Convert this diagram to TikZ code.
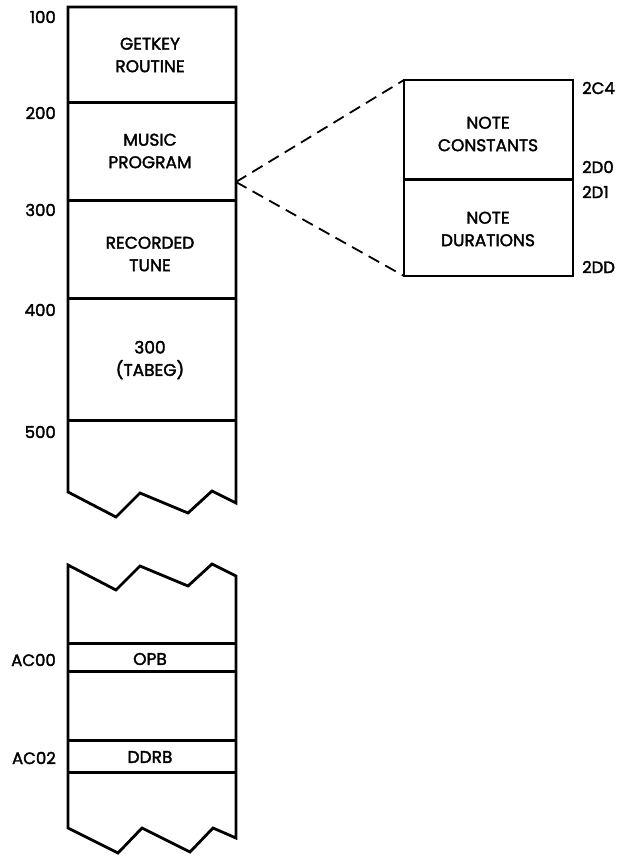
\documentclass[tikz,border=0pt]{standalone}
\usepackage{fontspec}
\setmainfont{Poppins}
\newfontfamily\diagfont{Poppins}[FakeBold=2]
\begin{document}
\tikzset{
  wall/.style={line width=2.8pt, line join=miter},
  divider/.style={line width=3pt},
  lbl/.style={font=\diagfont\fontsize{17}{22.5}\selectfont, align=center, inner sep=0pt},
  addr/.style={font=\diagfont\fontsize{16.5}{17}\selectfont, inner sep=0pt},
  zoomline/.style={line width=1.8pt, dash pattern=on 12pt off 7pt},
}
\begin{tikzpicture}[x=1pt,y=-1pt]
\useasboundingbox[fill=white] (0,0) rectangle (620,856);
% upper column
\draw[wall] (68,492) -- (68,7) -- (236,7) -- (236,503) -- (212,491) -- (188,513) -- (140,493) -- (116,517) -- cycle;
\draw[divider] (68,103) -- (236,103);
\draw[divider] (68,200) -- (236,200);
\draw[divider] (68,298) -- (236,298);
\draw[divider] (68,420) -- (236,420);
% lower column
\draw[wall] (68,565) -- (116,590) -- (140,566) -- (188,586) -- (212,564) -- (236,576) -- (236,838) -- (213,828) -- (190,852) -- (142,828) -- (118,853) -- (68,828) -- cycle;
\draw[divider] (68,643) -- (236,643);
\draw[divider] (68,671) -- (236,671);
\draw[divider] (68,740) -- (236,740);
\draw[divider] (68,772) -- (236,772);
% expanded box
\draw[wall] (404,80) rectangle (573,276);
\draw[divider] (404,179) -- (573,179);
% dashed zoom lines
\coordinate (apex) at (236,182);
\coordinate (zt) at (404,80);
\coordinate (zb) at (404,276);
\draw[zoomline] (apex) -- (zt);
\draw[zoomline] (apex) -- (zb);
% box texts
\node[lbl] (getkey) at (150,55) {GETKEY\\ROUTINE};
\node[lbl] (music) at (150,151) {MUSIC\\PROGRAM};
\node[lbl] (tune) at (150,254) {RECORDED\\TUNE};
\node[lbl] (tabeg) at (150,360) {300\\(TABEG)};
\node[lbl] (nconst) at (488,134) {NOTE\\CONSTANTS};
\node[lbl] (ndur) at (488,229) {NOTE\\DURATIONS};
\node[lbl] (opb) at (150,659) {OPB};
\node[lbl] (ddrb) at (150,757) {DDRB};
% left addresses
\node[addr, anchor=east] (a100) at (56,17) {100};
\node[addr, anchor=east] (a200) at (56,113) {200};
\node[addr, anchor=east] (a300) at (56,210) {300};
\node[addr, anchor=east] (a400) at (56,310) {400};
\node[addr, anchor=east] (a500) at (56,432) {500};
\node[addr, anchor=east] (aac00) at (56,660) {AC00};
\node[addr, anchor=east] (aac02) at (56,758) {AC02};
% right addresses
\node[addr, anchor=west] (a2c4) at (582,88) {2C4};
\node[addr, anchor=west] (a2d0) at (582,167) {2D0};
\node[addr, anchor=west] (a2d1) at (582,192) {2D1};
\node[addr, anchor=west] (a2dd) at (582,267) {2DD};
\end{tikzpicture}
\end{document}
